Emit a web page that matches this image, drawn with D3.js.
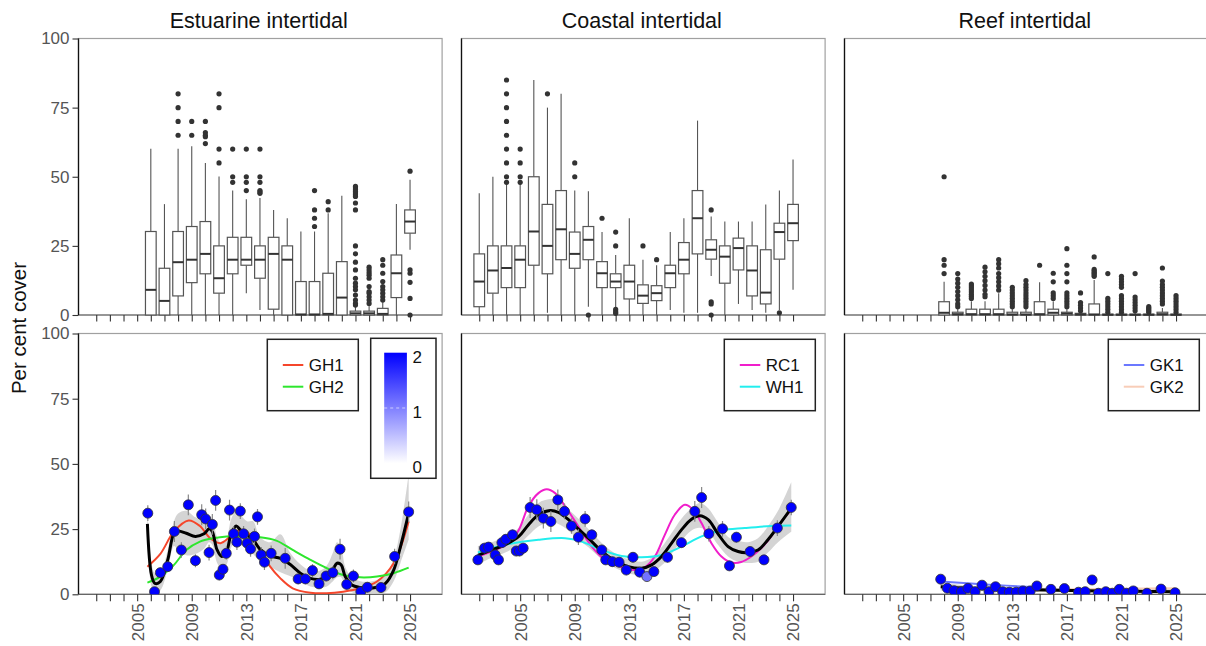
<!DOCTYPE html>
<html><head><meta charset="utf-8">
<script src="https://cdn.jsdelivr.net/npm/d3@7"></script>
<style>
body{margin:0;background:#fff}
svg{display:block;font-family:"Liberation Sans",Arial,Helvetica,sans-serif}
</style>
</head><body>
<svg id="chart" width="1206" height="646"></svg>
<script>
// ---------- axis ticks ----------
const yTickVals = [0, 25, 50, 75, 100];
const xTickYears = d3.range(2002, 2026);
const xLabelYears = [2005, 2009, 2013, 2017, 2021, 2025];

// ---------- Estuarine intertidal: yearly quadrat boxplots ----------
const estBoxYears = d3.range(2006, 2026);
const estLo  = [0,0,0,0,0,0,0,7.9,1.8,0,0,0,0,0,0,0,0,0,0,23.6];
const estQ1  = [0,0,6.9,11.7,14.9,7.9,14.9,18,13.3,2.1,0,0,0,0,0,0,0,0,6.3,29.6];
const estMed = [9.1,5.1,19.1,20,22.1,13.3,20,20,20,22.1,20,0.2,0.2,0.4,6.3,0.6,0.6,0.4,15.1,33.8];
const estQ3  = [30.2,16.9,30.2,32,33.8,25,28.1,28.1,25,28.1,25,12.1,12.1,15.1,19.3,1.4,1.4,2.4,21.7,38];
const estHi  = [60.1,40.1,60.1,61,55,50.1,45,41.9,42.3,38,35,30.2,30.2,36.8,43.1,3.4,3.4,4.6,40.1,48.9];
const estOut = [[],[],[80,75,70,65],[70,65],[70,66,65,64.5,62],[80,75,60,55],[60,50,48],[60,50,48,45],
  [60,50,48,45,44.5,44],[],[],[],[45,38,35,32],[41,38],[],
  [46.5,45.9,45.3,44.7,44.1,43.5,42.9,40.5,38,25,22.1,19.1,16.3,13.3,11.5,10.3,9.1,7.2,5.4,4.2,3.6],
  [17.3,16.3,15.3,14.4,13.3,10.3,8.5,7.9,6.6,5.4,4.2],
  [20,18,15.1,12.1,10.3,9.1,7.9,6.6,5.4],[],[52,16.3,15.1,11.8,6,0]];

// ---------- Coastal intertidal: yearly quadrat boxplots ----------
const cstBoxYears = d3.range(2002, 2026);
const cstLo  = [0,0,0,0,0,0.8,0,0,3,0,0,0,0,0,1.8,0.8,0.8,14.1,0,4,1.8,0.8,1.8,9.1];
const cstQ1  = [3,7.9,9.9,9.9,18,14.9,20,16.9,20,9.9,9.9,5.8,4.2,5.2,9.9,14.9,22.1,20.2,11.5,16.3,6.9,4,20.2,26.9];
const cstMed = [12.1,16.1,17,20,30.2,25,31,22.1,27.2,15.1,12.1,12.1,7,7.9,15.1,20,35,23.6,21.1,24.2,16.1,8.1,30,33.2];
const cstQ3  = [22.1,25,25,25,50,40,45,30,32,19.3,14.9,18,10.9,10.6,18,26.2,45,27.2,25,27.8,25,23.6,33.2,40];
const cstHi  = [44,50,47.5,47.5,85,75,80,45,44.8,30,21.7,35,20,18,30,35,70.3,35.6,33.8,33.8,33.8,40,45,56.2];
const cstOut = [[],[],[85,80,75,70,65,60,55,50,48],[60,55,50,48],[],[80],[],[55,50],[0],[35],
  [30,25,2,1.2,0.6],[],[25],[20],[],[],[],[38,4.8,4,0],[],[],[],[],[0.8],[]];

// ---------- Reef intertidal: yearly quadrat boxplots ----------
const reefBoxYears = d3.range(2008, 2026);
const reefLo  = [0,0,0,0,0,0,0,0,0,0,0,0,0,0,0,0,0,0];
const reefQ1  = [0,0,0,0,0,0,0,0,0,0,0,0,0,0,0,0,0,0];
const reefMed = [0.8,0.3,0.3,0.3,0.3,0.2,0.2,0.3,0.8,0.5,0.2,0.2,0.1,0.1,0.1,0.1,0.3,0.1];
const reefQ3  = [4.8,1,2.1,2.1,2.1,1,1,4.8,2.1,1,0.6,4,0.3,0.3,0.3,0.3,1,0.3];
const reefHi  = [12,2.5,5,5,7.9,2.5,2.5,11.8,5,2.5,1.5,12.7,0.8,0.8,0.8,0.8,2.5,0.8];
const reefOut = [[50,20,18,15],[15,13,11.5,10,8.5,7,5.5,4,3],[11.2,10.5,9.8,9,8.3,7.5,6.8,6],
  [17.3,15.6,14,12.4,10.7,9,7.5,6.6],[20,18.5,17,15,13.5,12,10.5,9],[10,9,8,7,6,5,4,3],
  [12.4,11,10,9,8,7,6,5,4,3],[18],[15.1,12,8,7,6],[24,18,15,12,8,7,6,5,4,3],[8,4.5,3.5,2.5,1.5],
  [21,16.5,16,15.5,15,14.5,14],[15,6,5,4,3,2,1],[14,13,12,11,10,7,6,5,4,3,2,1],
  [15,6.5,5.5,4.5,3.5,2.5,1.5],[3,2.5,2,1.5,1],[17,12.3,11,10,9,8,7,6,5,4],[7,6,5,4,3,2,1]];

// ---------- survey means (point, error half-width, weight) ----------
const estYears = [2005.78,2006.27,2006.7,2007.24,2007.73,2008.24,2008.75,2009.27,2009.73,2010.02,2010.27,2010.51,2010.75,2011.02,2011.29,2011.53,2011.77,2012.07,2012.31,2012.56,2012.8,2013.07,2013.31,2013.6,2013.82,2014.09,2014.33,2014.82,2015.85,2016.8,2017.33,2017.85,2018.33,2018.85,2019.34,2019.87,2020.36,2020.85,2021.39,2021.87,2022.87,2023.87,2024.9];
const estVals  = [31.1,1.0,8.3,10.6,24.1,17.0,34.3,12.9,30.5,28.9,16.0,26.8,36.0,7.4,9.6,15.7,32.3,23.2,20.0,31.9,23.2,19.6,17.4,22.2,29.7,15.1,12.3,15.7,13.8,5.9,5.9,9.1,4.0,7.0,8.3,17.3,3.8,7.0,1.0,2.7,2.6,14.5,31.6];
const estErr   = [3,1.5,2,2,4,3,4,2.5,4,4,3,4,4,2,2,2.5,4,3,3,3,3,3,3,3,3,3,3,3,4,2,2,2.5,2,2,2.5,4,2,2.5,1.5,2,2,3,4];
const estWt    = [2,2,2,2,2,2,2,2,2,2,2,2,2,2,2,2,2,2,2,2,2,2,2,2,2,2,2,2,2,2,2,2,2,2,2,2,2,2,2,2,2,2,2];

const cstYears = [2001.9,2002.39,2002.68,2003.17,2003.41,2003.66,2003.95,2004.44,2004.71,2004.95,2005.22,2005.73,2006.22,2006.7,2007.25,2007.76,2008.25,2008.76,2009.27,2009.76,2010.25,2010.98,2011.27,2011.76,2012.25,2012.78,2013.27,2013.76,2014.29,2014.8,2015.8,2016.82,2017.8,2018.3,2018.83,2019.83,2020.34,2020.85,2021.85,2022.87,2023.85,2024.87];
const cstVals  = [13.2,17.7,18.1,15.1,13.2,19.8,21.1,22.8,16.6,16.6,17.7,33.3,32.4,29.2,27.9,36.2,31.8,26.2,21.9,28.9,22.8,17.0,13.2,12.5,12.3,9.3,14.2,8.5,6.8,8.7,14.2,19.8,31.8,37.1,23.2,25.1,10.9,21.9,16.4,13.2,25.4,33.3];
const cstErr   = [2,2,2,2,2,2,2,2,2,2,2,4,4,4,4,4,3,3,3,3,2,2,2,2,2,2,2,2,1.5,2,2,2,4,4,3,3,2,2,2,2,3,3];
const cstWt    = [2,2,2,2,2,2,2,2,2,2,2,2,2,2,2,2,2,2,2,2,2,2,2,2,2,2,2,2,1.1,2,2,2,2,2,2,2,2,2,2,2,2,2];

const reefYears = [2007.75,2008.24,2008.73,2009.27,2009.75,2010.27,2010.78,2011.29,2011.77,2012.29,2012.78,2013.29,2013.78,2014.31,2014.8,2015.83,2016.82,2017.85,2018.34,2018.85,2019.31,2019.85,2020.33,2020.84,2021.36,2021.87,2022.87,2023.9,2024.93];
const reefVals  = [5.8,2.3,1.4,1.0,2.3,1.0,3.5,1.0,2.9,1.0,0.8,0.8,1.3,1.3,3.2,1.9,2.2,0.8,1.0,5.5,0.4,1.0,0.4,1.9,0.4,1.3,0.4,2.0,0.6];
const reefErr   = [1,0.6,0.5,0.5,0.6,0.5,0.8,0.5,0.7,0.5,0.4,0.4,0.5,0.5,0.8,0.6,0.6,0.4,0.5,1,0.3,0.5,0.3,0.6,0.3,0.5,0.3,0.6,0.4];
const reefWt    = [2,2,2,2,2,2,2,2,2,2,2,2,2,2,2,2,2,2,2,2,2,2,2,2,2,2,2,2,2];

// ---------- overall smoother: [year, fit, lower, upper] ----------
const estFit = [[2005.75,27,22,33],[2006.05,7.4,3,12],[2006.3,4.2,0.5,8],[2006.7,4.9,1.5,8.5],[2007.24,13.2,9.5,17],
  [2007.7,23.4,18.5,28],[2008.0,24.3,17,31],[2008.6,23.4,15,32],[2009.27,22.2,15.5,29.5],[2009.9,23.2,17.5,29],
  [2010.27,25.1,20,30],[2010.5,24.1,19,29],[2010.86,17,12,22],[2011.2,14.5,9.5,19.5],[2011.53,16,11,21],
  [2011.9,23.4,18,29],[2012.26,26.2,20.5,32],[2012.56,24.7,19,30.5],[2013.05,22.8,17.5,28],[2013.5,20.9,15.5,28],
  [2014.0,17.3,12.5,22],[2014.75,14.7,10.5,20],[2015.5,13.8,8.5,23],[2016.2,11.5,7,16],[2016.96,8.1,5,11.5],
  [2017.7,6.1,3,9],[2018.4,5.8,2.5,9],[2018.9,6.8,3,11],[2019.35,9.6,5,16],[2019.65,11.9,6.5,20],
  [2019.95,11.3,6.5,18],[2020.25,6.8,3,10.5],[2020.74,3.6,0.8,6.5],[2021.35,2.6,0.3,5],[2021.85,2.3,0.2,4.8],
  [2022.58,2.7,0.2,5.5],[2023.2,4.2,0.8,7.5],[2023.8,9.3,5,13.5],[2024.3,18.3,12,25],[2024.9,31.1,21,46]];
const cstFit = [[2001.9,14.9,11.5,18.5],[2002.92,17,14,20],[2003.9,19,16,22],[2004.9,22.2,19,25.5],
  [2005.6,26.6,22.5,30.5],[2006.34,30.5,26,35],[2007.2,32.1,27.5,36.5],[2007.8,31.4,27,36],[2008.54,28.6,24.5,32.5],
  [2009.27,25,21,29],[2010,21.5,18,25],[2010.73,17.7,14.5,21],[2011.46,14.5,11.5,17.5],[2012.2,12.2,9.5,15],
  [2012.93,10.6,8,13.5],[2013.9,10,7.5,12.5],[2014.63,11.3,8.5,14],[2015.36,14.5,11,18],[2016.1,19.6,15.5,23.5],
  [2016.82,24.7,20.5,29],[2017.56,28.8,24.5,33],[2018.17,30.1,25.5,35],[2018.78,28.6,24,33],[2019.5,23.2,19,27.5],
  [2020.24,18.3,14.5,22],[2020.97,16.4,12.5,20.5],[2021.7,16,12,20],[2022.43,17,12.5,21.5],[2023.16,20.9,16,26],
  [2023.9,26,20,32],[2024.87,33,24,43]];
const reefFit = [[2007.75,2.9,1.5,4.5],[2009.8,2.3,1.3,3.3],[2014.7,1.7,0.9,2.5],[2019.6,1.3,0.6,2.1],[2024.93,1.0,0.2,2]];

// ---------- site smoothers: [year, fit] ----------
const gh1 = [[2005.75,10.6],[2006.7,15.5],[2007.7,24.1],[2008.77,28.3],[2009.6,26.2],[2010.35,21.5],[2011.1,19.6],
  [2011.85,22.2],[2012.56,24.7],[2013.3,22.8],[2014.0,17.0],[2014.75,10.6],[2015.5,6.1],[2016.4,2.3],[2017.7,0.6],
  [2018.9,0.4],[2020.1,1.0],[2021.35,2.3],[2022.58,4.9],[2023.8,11.9],[2024.9,27.9]];
const gh2 = [[2005.75,4.5],[2006.7,6.8],[2007.7,11.3],[2008.6,17.0],[2009.6,20.2],[2010.57,21.5],[2011.55,22.2],
  [2012.8,22.2],[2014.0,21.9],[2015.2,20.6],[2016.4,17.0],[2017.7,13.2],[2018.9,10.0],[2020.1,7.4],[2021.35,6.5],
  [2022.58,6.8],[2023.8,8.1],[2024.9,10.2]];
const rc1 = [[2001.9,14.5],[2003.17,17.0],[2004.15,19.6],[2004.9,24.7],[2005.6,33.7],[2006.34,38.8],[2006.95,40.3],
  [2007.56,38.8],[2008.3,33.7],[2009.27,26.0],[2010.25,18.3],[2011.22,13.2],[2012.44,10.4],[2013.41,9.3],[2014.14,10.4],
  [2014.87,14.5],[2015.6,22.8],[2016.33,30.5],[2017.07,34.3],[2017.68,32.4],[2018.29,27.3],[2019.02,19.6],[2019.75,14.5],
  [2020.48,12.2],[2021.2,12.4],[2021.95,14.5],[2022.68,17.7],[2023.4,22.2],[2024.14,27.9],[2024.87,32.4]];
const wh1 = [[2001.9,16.0],[2003.9,19.0],[2006.34,20.9],[2008.3,21.5],[2009.5,20.2],[2010.98,17.0],[2012.44,14.7],
  [2013.9,14.2],[2015.36,15.1],[2016.82,18.3],[2018.29,22.2],[2019.75,24.5],[2021.46,25.4],[2023.4,26.2],[2024.87,26.4]];
const gk1 = [[2007.75,4.9],[2011,3.8],[2014.8,2.7]];
const gk2 = [[2014.3,1.4],[2017.5,1.9],[2021,2.1],[2024.93,2.3]];

const weightRange = [0, 2];
const weightTicks = [0, 1, 2];

// ---------- layout ----------
const svg = d3.select("#chart");
const W = 363.6;
const panelLefts = [78.5, 461.5, 844.5];
const x = d3.scaleLinear().domain([2000.7, 2027.35]).range([0, W]);
const yTop = d3.scaleLinear().domain([0, 100]).range([315, 38.5]);
const yBot = d3.scaleLinear().domain([0, 100]).range([594.3, 333.5]);
const wtColor = d3.scaleLinear().domain(weightRange).range(["#ffffff", "#0000ff"]);
const smooth = d3.curveCatmullRom.alpha(0.5);

const panels = [
  {title: "Estuarine intertidal",
   box: {years: estBoxYears, lo: estLo, q1: estQ1, med: estMed, q3: estQ3, hi: estHi, out: estOut},
   pts: {years: estYears, vals: estVals, err: estErr, wt: estWt},
   fit: estFit,
   sites: [{name: "GH1", color: "#f5462b", data: gh1}, {name: "GH2", color: "#2de62d", data: gh2}],
   legendX: 188.8, colorbar: true},
  {title: "Coastal intertidal",
   box: {years: cstBoxYears, lo: cstLo, q1: cstQ1, med: cstMed, q3: cstQ3, hi: cstHi, out: cstOut},
   pts: {years: cstYears, vals: cstVals, err: cstErr, wt: cstWt},
   fit: cstFit,
   sites: [{name: "RC1", color: "#f01ecb", data: rc1}, {name: "WH1", color: "#22eeee", data: wh1}],
   legendX: 262.8},
  {title: "Reef intertidal",
   box: {years: reefBoxYears, lo: reefLo, q1: reefQ1, med: reefMed, q3: reefQ3, hi: reefHi, out: reefOut},
   pts: {years: reefYears, vals: reefVals, err: reefErr, wt: reefWt},
   fit: reefFit,
   sites: [{name: "GK1", color: "#6b78ff", data: gk1}, {name: "GK2", color: "#f8cdb8", data: gk2}],
   legendX: 263.8}
];

// shared y-axis title
svg.append("text")
  .attr("transform", "translate(25.5,328) rotate(-90)")
  .attr("text-anchor", "middle")
  .style("font-size", "20.5px").style("fill", "#111")
  .text("Per cent cover");

const defs = svg.append("defs");

panels.forEach((p, pi) => {
  const g = svg.append("g").attr("transform", `translate(${panelLefts[pi]},0)`);

  g.append("text").attr("x", W / 2 - 1.5).attr("y", 28)
    .attr("text-anchor", "middle").style("font-size", "21.5px").style("fill", "#111")
    .text(p.title);

  // frames
  [[yTop, 38.5, 315], [yBot, 333.5, 594.3]].forEach(([ys, t, b]) => {
    g.append("rect").attr("x", 0).attr("y", t).attr("width", W).attr("height", b - t)
      .attr("fill", "none").attr("stroke", "#a0a0a0").attr("stroke-width", 1.2);
    g.append("line").attr("x1", 0).attr("x2", W).attr("y1", b).attr("y2", b)
      .attr("stroke", "#666").attr("stroke-width", 1.2);
    g.append("line").attr("x1", 0).attr("x2", 0).attr("y1", t).attr("y2", b)
      .attr("stroke", "#111").attr("stroke-width", 1.3);
  });

  // x axes
  const xTop = g.append("g").attr("transform", "translate(0,315)")
    .call(d3.axisBottom(x).tickValues(xTickYears).tickSize(6.5).tickFormat(""));
  const xBot = g.append("g").attr("transform", "translate(0,594.3)")
    .call(d3.axisBottom(x).tickValues(xTickYears).tickSize(7)
      .tickFormat(d => xLabelYears.includes(d) ? String(d) : ""));
  [xTop, xBot].forEach(a => {
    a.select(".domain").remove();
    a.selectAll(".tick line").attr("stroke", "#333").attr("stroke-width", 1.1);
  });
  xBot.selectAll(".tick text")
    .attr("transform", "rotate(-90)")
    .attr("x", -9).attr("y", 0).attr("dy", "0.35em")
    .attr("text-anchor", "end")
    .style("font-size", "17px").style("fill", "#555").style("font-family", "inherit");

  // y axes (left column only)
  if (pi === 0) {
    [yTop, yBot].forEach(ys => {
      const a = g.append("g").call(d3.axisLeft(ys).tickValues(yTickVals).tickSize(6).tickPadding(3));
      a.select(".domain").remove();
      a.selectAll(".tick line").attr("stroke", "#333").attr("stroke-width", 1.1);
      a.selectAll(".tick text").style("font-size", "17px").style("fill", "#555").style("font-family", "inherit");
    });
  }

  // ---------- boxplots ----------
  const bw = 10.7;
  const B = p.box;
  B.years.forEach((yr, i) => {
    const cx = x(yr);
    const bg = g.append("g");
    bg.append("line").attr("x1", cx).attr("x2", cx).attr("y1", yTop(B.q3[i])).attr("y2", yTop(B.hi[i]))
      .attr("stroke", "#555").attr("stroke-width", 1.1);
    bg.append("line").attr("x1", cx).attr("x2", cx).attr("y1", yTop(B.q1[i])).attr("y2", yTop(B.lo[i]))
      .attr("stroke", "#555").attr("stroke-width", 1.1);
    bg.append("rect").attr("x", cx - bw / 2).attr("width", bw)
      .attr("y", yTop(B.q3[i])).attr("height", Math.max(0.5, yTop(B.q1[i]) - yTop(B.q3[i])))
      .attr("fill", "#fff").attr("stroke", "#555").attr("stroke-width", 1.2);
    bg.append("line").attr("x1", cx - bw / 2).attr("x2", cx + bw / 2)
      .attr("y1", yTop(B.med[i])).attr("y2", yTop(B.med[i]))
      .attr("stroke", "#333").attr("stroke-width", 2);
    bg.selectAll("circle").data(B.out[i]).join("circle")
      .attr("cx", cx).attr("cy", d => yTop(d)).attr("r", 2.6).attr("fill", "#333");
  });

  // ---------- lower panel: trends ----------
  const clipId = "clip" + pi;
  defs.append("clipPath").attr("id", clipId)
    .append("rect").attr("x", 0).attr("y", 333.5).attr("width", W).attr("height", 594.3 - 333.5);
  const lg = g.append("g").attr("clip-path", `url(#${clipId})`);

  lg.append("path").datum(p.fit)
    .attr("d", d3.area().x(d => x(d[0])).y0(d => yBot(d[2])).y1(d => yBot(d[3])).curve(smooth))
    .attr("fill", "#cfcfcf").attr("opacity", 0.9);

  p.sites.forEach(s => {
    lg.append("path").datum(s.data)
      .attr("d", d3.line().x(d => x(d[0])).y(d => yBot(d[1])).curve(smooth))
      .attr("fill", "none").attr("stroke", s.color).attr("stroke-width", 2);
  });

  lg.append("path").datum(p.fit)
    .attr("d", d3.line().x(d => x(d[0])).y(d => yBot(d[1])).curve(smooth))
    .attr("fill", "none").attr("stroke", "#000").attr("stroke-width", 3);

  const P = p.pts;
  const idx = d3.range(P.years.length);
  lg.selectAll("line.err").data(idx).join("line").attr("class", "err")
    .attr("x1", i => x(P.years[i])).attr("x2", i => x(P.years[i]))
    .attr("y1", i => yBot(Math.max(0, P.vals[i] - P.err[i])))
    .attr("y2", i => yBot(P.vals[i] + P.err[i]))
    .attr("stroke", "#888").attr("stroke-width", 1.2);
  lg.selectAll("circle.pt").data(idx).join("circle").attr("class", "pt")
    .attr("cx", i => x(P.years[i])).attr("cy", i => yBot(P.vals[i])).attr("r", 5)
    .attr("fill", i => wtColor(P.wt[i])).attr("stroke", "#333").attr("stroke-width", 0.8);

  // ---------- legend ----------
  const leg = g.append("g").attr("transform", `translate(${p.legendX},339.3)`);
  leg.append("rect").attr("width", 91).attr("height", 71.4)
    .attr("fill", "#fff").attr("stroke", "#222").attr("stroke-width", 1.5);
  p.sites.forEach((s, k) => {
    const ly = 25.7 + k * 21.7;
    leg.append("line").attr("x1", 15.5).attr("x2", 36).attr("y1", ly).attr("y2", ly)
      .attr("stroke", s.color).attr("stroke-width", 2);
    leg.append("text").attr("x", 41.5).attr("y", ly).attr("dy", "0.36em")
      .style("font-size", "17px").style("fill", "#111").text(s.name);
  });

  // ---------- weight colour bar ----------
  if (p.colorbar) {
    const cb = g.append("g").attr("transform", "translate(292.2,338.3)");
    cb.append("rect").attr("width", 65.3).attr("height", 140)
      .attr("fill", "#fff").attr("stroke", "#222").attr("stroke-width", 1.5);
    const grad = defs.append("linearGradient").attr("id", "wtGrad")
      .attr("x1", 0).attr("y1", 1).attr("x2", 0).attr("y2", 0);
    grad.selectAll("stop").data(weightRange).join("stop")
      .attr("offset", d => (d - weightRange[0]) / (weightRange[1] - weightRange[0]))
      .attr("stop-color", d => wtColor(d));
    const cbY = d3.scaleLinear().domain(weightRange).range([125, 14.4]);
    cb.append("rect").attr("x", 13.5).attr("y", cbY(2)).attr("width", 22.7)
      .attr("height", cbY(0) - cbY(2)).attr("fill", "url(#wtGrad)");
    const ca = cb.append("g").attr("transform", "translate(36.2,0)")
      .call(d3.axisRight(cbY).tickValues(weightTicks).tickSize(0).tickPadding(5.5).tickFormat(d3.format("d")));
    ca.select(".domain").remove();
    ca.selectAll(".tick text").attr("dy", "0.55em")
      .style("font-size", "17px").style("fill", "#111").style("font-family", "inherit");
    cb.selectAll("line.cbt").data(weightTicks.slice(1, -1)).join("line").attr("class", "cbt")
      .attr("x1", 13.5).attr("x2", 36.2).attr("y1", d => cbY(d)).attr("y2", d => cbY(d))
      .attr("stroke", "#fff").attr("stroke-opacity", 0.6).attr("stroke-dasharray", "3,3");
  }
});
</script>
</body></html>
